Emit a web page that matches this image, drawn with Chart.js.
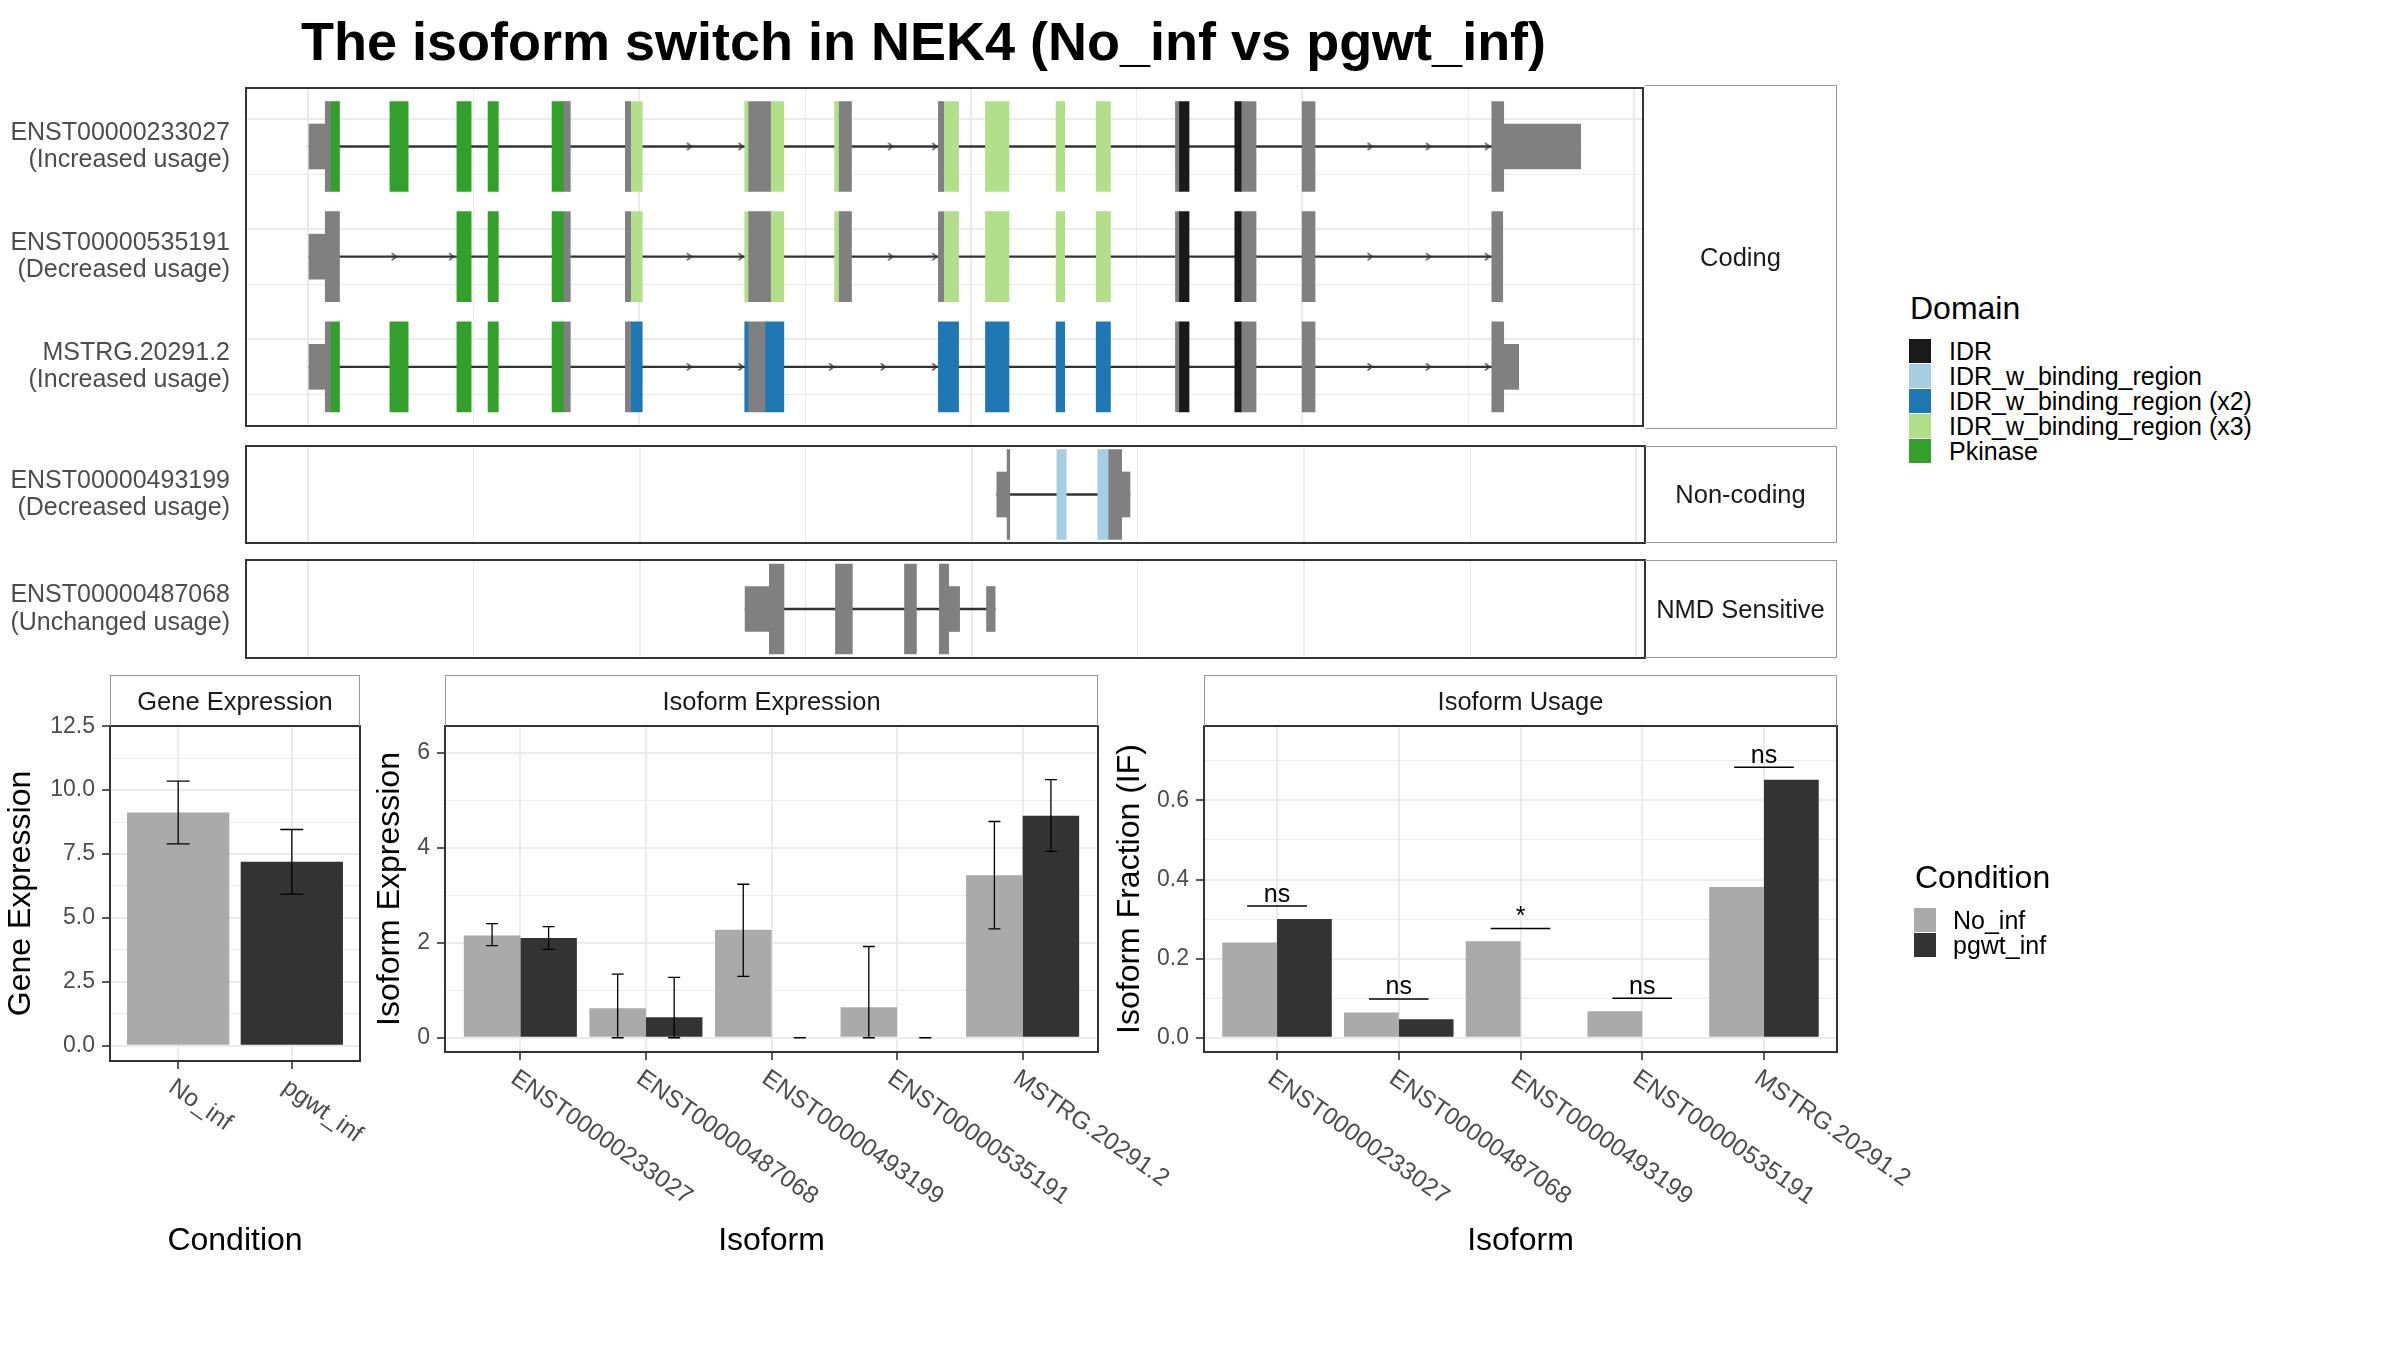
<!DOCTYPE html>
<html>
<head>
<meta charset="utf-8">
<title>NEK4 isoform switch</title>
<script src="https://cdn.jsdelivr.net/npm/chart.js@4.4.1/dist/chart.umd.min.js"></script>
<style>
  body { margin: 0; background: #fff; }
  #wrap { position: relative; width: 2400px; height: 1350px; overflow: hidden;
          font-family: 'Liberation Sans', Arial, sans-serif; }
  canvas { position: absolute; }
  .t { position: absolute; white-space: nowrap; }
  .strip { position: absolute; box-sizing: border-box; border: 1.5px solid #999;
           display: flex; align-items: center; justify-content: center;
           font-size: 25.5px; color: #1a1a1a; }
  .key { position: absolute; }
</style>
</head>
<body>
<div id="wrap"></div>
<script>
// ---- data ----
const IDR = 'IDR', B1 = 'IDR_w_binding_region', B2 = 'IDR_w_binding_region (x2)',
      B3 = 'IDR_w_binding_region (x3)', PK = 'Pkinase';
const domainNames = [IDR, B1, B2, B3, PK];
const domainColors = ['#1a1a1a', '#a6cee3', '#1f78b4', '#b2df8a', '#33a02c'];

// exon pieces [start, end, feature], relative genomic position (bp)
const tx233027 = [[4, 53, 'UTR'], [53, 68, 'CDS'], [68, 96, PK], [248, 303, PK], [450, 493, PK],
  [544, 575, PK], [737, 773, PK], [773, 792, 'CDS'], [958, 974, 'CDS'], [974, 1009, B3],
  [1318, 1330, B3], [1330, 1396, 'CDS'], [1396, 1436, B3], [1589, 1603, B3], [1603, 1640, 'CDS'],
  [1902, 1918, 'CDS'], [1918, 1963, B3], [2044, 2115, B3], [2257, 2283, B3], [2378, 2421, B3],
  [2617, 2627, 'CDS'], [2627, 2658, IDR], [2796, 2817, IDR], [2817, 2860, 'CDS'], [2999, 3038, 'CDS'],
  [3571, 3607, 'CDS'], [3607, 3839, 'UTR']];
const tx535191 = [[4, 53, 'UTR'], [53, 96, 'CDS'], [450, 493, PK], [544, 575, PK],
  [737, 773, PK], [773, 792, 'CDS'], [958, 974, 'CDS'], [974, 1009, B3],
  [1318, 1330, B3], [1330, 1396, 'CDS'], [1396, 1436, B3], [1589, 1603, B3], [1603, 1640, 'CDS'],
  [1902, 1918, 'CDS'], [1918, 1963, B3], [2044, 2115, B3], [2257, 2283, B3], [2378, 2421, B3],
  [2617, 2627, 'CDS'], [2627, 2658, IDR], [2796, 2817, IDR], [2817, 2860, 'CDS'], [2999, 3038, 'CDS'],
  [3571, 3604, 'CDS']];
const txMSTRG = [[4, 53, 'UTR'], [53, 68, 'CDS'], [68, 96, PK], [248, 303, PK], [450, 493, PK],
  [544, 575, PK], [737, 773, PK], [773, 792, 'CDS'], [958, 974, 'CDS'], [974, 1009, B2],
  [1318, 1330, B2], [1330, 1379, 'CDS'], [1379, 1436, B2], [1902, 1963, B2],
  [2044, 2115, B2], [2257, 2283, B2], [2378, 2421, B2],
  [2617, 2627, 'CDS'], [2627, 2658, IDR], [2796, 2817, IDR], [2817, 2860, 'CDS'], [2999, 3038, 'CDS'],
  [3571, 3607, 'CDS'], [3607, 3652, 'UTR']];
const tx493199 = [[2075, 2106, 'UTR'], [2106, 2114, 'CDS'], [2256, 2284, B1],
  [2379, 2412, B1], [2412, 2451, 'CDS'], [2451, 2476, 'UTR']];
const tx487068 = [[1317, 1390, 'UTR'], [1390, 1434, 'CDS'], [1589, 1640, 'CDS'], [1797, 1833, 'CDS'],
  [1902, 1930, 'CDS'], [1930, 1963, 'UTR'], [2044, 2070, 'UTR']];

// intron direction arrows
const arr233027 = [1157, 1313, 1764, 1897, 3210, 3386, 3564];
const arr535191 = [267, 440, 1157, 1313, 1764, 1897, 3210, 3386, 3564];
const arrMSTRG = [1157, 1313, 1586, 1742, 1897, 3210, 3386, 3564];

const codingIds = ['ENST00000233027', 'ENST00000535191', 'MSTRG.20291.2'];
const codingUsage = ['Increased usage', 'Decreased usage', 'Increased usage'];

const conditions = ['No_inf', 'pgwt_inf'];
const condColors = ['#aaaaaa', '#333333'];
const geneExp = [9.12, 7.2];
const geneLo = [7.9, 5.93];
const geneHi = [10.35, 8.46];

const isoforms = ['ENST00000233027', 'ENST00000487068', 'ENST00000493199', 'ENST00000535191', 'MSTRG.20291.2'];
const isoExpNo = [2.15, 0.62, 2.27, 0.64, 3.42];
const isoExpPg = [2.10, 0.43, 0, 0, 4.67];
const isoLoNo = [1.94, 0, 1.29, 0, 2.29];
const isoHiNo = [2.40, 1.34, 3.23, 1.92, 4.55];
const isoLoPg = [1.86, 0, 0, 0, 3.92];
const isoHiPg = [2.34, 1.27, 0, 0, 5.43];

const ifNo = [0.241, 0.064, 0.244, 0.067, 0.381];
const ifPg = [0.300, 0.047, 0, 0, 0.652];
const sigY = [0.333, 0.098, 0.276, 0.100, 0.684];
const sigText = ['ns', 'ns', '*', 'ns', 'ns'];

// ---- page helpers ----
Chart.defaults.font.family = "'Liberation Sans', Arial, sans-serif";
Chart.defaults.animation = false;
Chart.defaults.events = [];
Chart.defaults.plugins.legend.display = false;
Chart.defaults.plugins.tooltip.enabled = false;

const wrap = document.getElementById('wrap');
const PANEL_L = 246, PANEL_R = 1645;
const TITLE_SIZE = 32;

function addCanvas(left, top, w, h) {
  const c = document.createElement('canvas');
  c.width = w; c.height = h;
  c.style.left = left + 'px'; c.style.top = top + 'px';
  c.style.width = w + 'px'; c.style.height = h + 'px';
  wrap.appendChild(c);
  return c;
}
function txt(s, x, cy, size, o = {}) {
  const d = document.createElement('div');
  d.className = 't';
  d.textContent = s;
  d.style.fontSize = size + 'px';
  d.style.lineHeight = (size * 1.2) + 'px';
  d.style.top = (cy - size * 0.59) + 'px';
  d.style.left = x + 'px';
  d.style.color = o.color || '#000';
  if (o.bold) d.style.fontWeight = 'bold';
  if (o.center) d.style.transform = 'translateX(-50%)';
  wrap.appendChild(d);
}
function strip(label, l, t, w, h, side) {
  const d = document.createElement('div');
  d.className = 'strip';
  d.textContent = label;
  Object.assign(d.style, { left: l + 'px', top: t + 'px', width: w + 'px', height: h + 'px' });
  if (side === 'right') d.style.borderLeft = 'none';
  else d.style.borderBottom = 'none';
  wrap.appendChild(d);
}
function key(color, l, t, w, h) {
  const d = document.createElement('div');
  d.className = 'key';
  Object.assign(d.style, { left: l + 'px', top: t + 'px', width: w + 'px', height: h + 'px', background: color });
  wrap.appendChild(d);
}

const panelBorder = {
  id: 'panelBorder',
  afterDraw(chart) {
    const a = chart.chartArea, ctx = chart.ctx;
    ctx.save();
    ctx.strokeStyle = '#333';
    ctx.lineWidth = 2;
    ctx.strokeRect(a.left, a.top, a.right - a.left, a.bottom - a.top);
    ctx.restore();
  }
};

// small ">" used on introns; tip sits on the image centre
const chevron = document.createElement('canvas');
chevron.width = 14; chevron.height = 10;
{
  const cc = chevron.getContext('2d');
  cc.strokeStyle = '#333'; cc.lineWidth = 1.4;
  cc.beginPath(); cc.moveTo(2.5, 1.5); cc.lineTo(7, 5); cc.lineTo(2.5, 8.5); cc.stroke();
}

// ---- transcript structure panels ----
function modelPanel(top, bottom, ids, usage, segs, arrows, yMin, yMax) {
  const c = addCanvas(0, top - 2, PANEL_R + 3, bottom - top + 4);
  const sets = [{
    data: segs.map((s, i) => ({ x: [s[0][0], s[s.length - 1][1]], y: i + 1 })),
    backgroundColor: '#333333', barThickness: 1.6, grouped: false, order: 10
  }];
  ['UTR', 'CDS'].concat(domainNames).forEach(f => {
    const pts = [];
    segs.forEach((s, i) => s.forEach(e => { if (e[2] === f) pts.push({ x: [e[0], e[1]], y: i + 1 }); }));
    if (!pts.length) return;
    sets.push({
      data: pts,
      backgroundColor: domainNames.includes(f) ? domainColors[domainNames.indexOf(f)] : '#808080',
      barThickness: f === 'UTR' ? 45 : 90, grouped: false, order: 2
    });
  });
  const ap = [];
  arrows.forEach((a, i) => a.forEach(x => ap.push({ x: x, y: i + 1 })));
  if (ap.length) sets.push({ type: 'scatter', data: ap, pointStyle: chevron, pointRadius: 4, order: 0 });

  new Chart(c, {
    type: 'bar',
    data: { datasets: sets },
    options: {
      indexAxis: 'y',
      responsive: false,
      layout: { padding: { top: 2, bottom: 2, left: 0, right: 3 } },
      scales: {
        x: {
          type: 'linear', min: -186, max: 4027, offset: false,
          afterBuildTicks: s => { s.ticks = []; for (let v = 0; v <= 4000; v += 500) s.ticks.push({ value: v }); },
          ticks: { display: false },
          grid: { drawTicks: false, color: '#ebebeb', lineWidth: ctx => (ctx.tick && ctx.tick.value % 1000 === 0 ? 2 : 1) },
          border: { display: false },
          afterFit: s => { s.height = 0; }
        },
        y: {
          type: 'linear', min: yMin, max: yMax, reverse: true, offset: false,
          afterBuildTicks: s => {
            s.ticks = [];
            for (let v = Math.ceil(yMin * 2) / 2; v <= yMax; v += 0.5) s.ticks.push({ value: v });
          },
          ticks: {
            autoSkip: false, padding: 16, color: '#4d4d4d', font: { size: 25, lineHeight: 1.1 },
            callback: v => (Number.isInteger(v) ? [ids[v - 1], '(' + usage[v - 1] + ')'] : '')
          },
          grid: { drawTicks: false, color: '#ebebeb', lineWidth: ctx => (ctx.tick && Number.isInteger(ctx.tick.value) ? 2 : 1) },
          border: { display: false },
          afterFit: s => { s.width = PANEL_L; s.paddingTop = 0; s.paddingBottom = 0; }
        }
      }
    },
    plugins: [panelBorder]
  });
}

modelPanel(85, 429, codingIds, codingUsage, [tx233027, tx535191, txMSTRG], [arr233027, arr535191, arrMSTRG], 0.469, 3.537);
modelPanel(446, 543, ['ENST00000493199'], ['Decreased usage'], [tx493199], [[]], 0.565, 1.435);
modelPanel(560, 658, ['ENST00000487068'], ['Unchanged usage'], [tx487068], [[]], 0.565, 1.435);

strip('Coding', PANEL_R, 85, 192, 344, 'right');
strip('Non-coding', PANEL_R, 446, 192, 97, 'right');
strip('NMD Sensitive', PANEL_R, 560, 192, 98, 'right');

// ---- bar panels ----
function catAxis(n, height) {
  return {
    type: 'linear', min: 0.4, max: n + 0.6, offset: false,
    afterBuildTicks: s => { s.ticks = []; for (let i = 1; i <= n; i++) s.ticks.push({ value: i }); },
    ticks: { display: false },
    grid: { offset: false, color: '#ebebeb', lineWidth: 2, drawTicks: true, tickLength: 8, tickColor: '#333', tickWidth: 1.6 },
    border: { display: false },
    afterFit: s => { s.height = height; s.paddingLeft = 0; s.paddingRight = 0; }
  };
}
// titleX: wanted centre of the rotated y title, measured from the canvas left edge
function valAxis(min, max, step, fmt, width, title, titleX) {
  return {
    type: 'linear', min: min, max: max, offset: false,
    afterBuildTicks: s => {
      s.ticks = [];
      for (let k = 0; k * step <= max + 1e-9; k++) s.ticks.push({ value: +(k * step).toFixed(4), isMajor: k % 2 === 0 });
    },
    ticks: {
      autoSkip: false, padding: 7, color: '#4d4d4d', font: { size: 23 },
      callback: function (v, i, ticks) { return ticks[i].isMajor ? fmt(v) : ''; }
    },
    grid: {
      color: '#ebebeb', tickLength: 8, tickWidth: 1.6,
      lineWidth: ctx => (ctx.tick && ctx.tick.isMajor ? 2 : 1),
      tickColor: ctx => (ctx.tick && ctx.tick.isMajor ? '#333' : 'rgba(0,0,0,0)')
    },
    border: { display: false },
    title: {
      display: true, text: title, color: '#000', font: { size: TITLE_SIZE, lineHeight: 1.2 },
      padding: { top: titleX - TITLE_SIZE * 0.6, bottom: 0 }
    },
    afterFit: s => { s.width = width; s.paddingTop = 0; s.paddingBottom = 0; }
  };
}
function slantLabels(labels, dy) {
  return {
    id: 'slantLabels',
    afterDraw(chart) {
      const xs = chart.scales.x, ctx = chart.ctx, y0 = chart.chartArea.bottom + dy;
      ctx.save();
      ctx.fillStyle = '#4d4d4d';
      ctx.font = "24.5px 'Liberation Sans', Arial, sans-serif";
      ctx.textAlign = 'left';
      ctx.textBaseline = 'top';
      labels.forEach((lab, i) => {
        ctx.save();
        ctx.translate(xs.getPixelForValue(i + 1), y0);
        ctx.rotate(35 * Math.PI / 180);
        ctx.fillText(lab, 0, 0);
        ctx.restore();
      });
      ctx.restore();
    }
  };
}
function xTitle(text, fromBottom) {
  return {
    id: 'xTitle',
    afterDraw(chart) {
      const a = chart.chartArea, ctx = chart.ctx;
      ctx.save();
      ctx.fillStyle = '#000';
      ctx.font = TITLE_SIZE + "px 'Liberation Sans', Arial, sans-serif";
      ctx.textAlign = 'center';
      ctx.textBaseline = 'alphabetic';
      ctx.fillText(text, (a.left + a.right) / 2, chart.height - fromBottom);
      ctx.restore();
    }
  };
}
function errorBars(sets) {
  return {
    id: 'errorBars',
    afterDatasetsDraw(chart) {
      const xs = chart.scales.x, ys = chart.scales.y, ctx = chart.ctx;
      ctx.save();
      ctx.strokeStyle = '#000';
      ctx.lineWidth = 1.3;
      sets.forEach(s => s.lo.forEach((lo, i) => {
        const x = xs.getPixelForValue(i + 1 + s.shift);
        const y1 = ys.getPixelForValue(lo), y2 = ys.getPixelForValue(s.hi[i]), h = s.cap / 2;
        ctx.beginPath();
        ctx.moveTo(x, y1); ctx.lineTo(x, y2);
        ctx.moveTo(x - h, y1); ctx.lineTo(x + h, y1);
        ctx.moveTo(x - h, y2); ctx.lineTo(x + h, y2);
        ctx.stroke();
      }));
      ctx.restore();
    }
  };
}
const sigMarks = {
  id: 'sigMarks',
  afterDatasetsDraw(chart) {
    const xs = chart.scales.x, ys = chart.scales.y, ctx = chart.ctx;
    ctx.save();
    ctx.strokeStyle = '#000'; ctx.fillStyle = '#000'; ctx.lineWidth = 1.5;
    ctx.font = "25px 'Liberation Sans', Arial, sans-serif";
    ctx.textAlign = 'center'; ctx.textBaseline = 'alphabetic';
    sigY.forEach((v, i) => {
      const y = ys.getPixelForValue(v);
      ctx.beginPath();
      ctx.moveTo(xs.getPixelForValue(i + 1 - 0.245), y);
      ctx.lineTo(xs.getPixelForValue(i + 1 + 0.245), y);
      ctx.stroke();
      ctx.fillText(sigText[i], xs.getPixelForValue(i + 1), y - 4.5);
    });
    ctx.restore();
  }
};
function barSet(vals, color) {
  return { data: vals.map((v, i) => ({ x: i + 1, y: v })), backgroundColor: color, categoryPercentage: 0.9, barPercentage: 1 };
}

const BAR_TOP = 726, CANVAS_TOP = 696, CANVAS_BOT = 1300;

// Gene expression
new Chart(addCanvas(0, CANVAS_TOP, 400, CANVAS_BOT - CANVAS_TOP), {
  type: 'bar',
  data: { datasets: [barSet(geneExp, condColors)] },
  options: {
    responsive: false,
    layout: { padding: { top: BAR_TOP - CANVAS_TOP, right: 400 - 360, left: 0, bottom: 0 } },
    scales: {
      x: catAxis(conditions.length, CANVAS_BOT - 1061),
      y: valAxis(-0.6, 12.51, 1.25, v => v.toFixed(1), 110, 'Gene Expression', 21)
    }
  },
  plugins: [panelBorder, slantLabels(conditions, 14), xTitle('Condition', 50),
    errorBars([{ shift: 0, lo: geneLo, hi: geneHi, cap: 23 }])]
});

// Isoform expression
new Chart(addCanvas(360, CANVAS_TOP, 840, CANVAS_BOT - CANVAS_TOP), {
  type: 'bar',
  data: { datasets: [barSet(isoExpNo, condColors[0]), barSet(isoExpPg, condColors[1])] },
  options: {
    responsive: false,
    layout: { padding: { top: BAR_TOP - CANVAS_TOP, right: 1200 - 1098, left: 0, bottom: 0 } },
    scales: {
      x: catAxis(isoforms.length, CANVAS_BOT - 1052),
      y: valAxis(-0.3, 6.56, 1, v => String(v), 85, 'Isoform Expression', 30)
    }
  },
  plugins: [panelBorder, slantLabels(isoforms, 14), xTitle('Isoform', 50),
    errorBars([{ shift: -0.225, lo: isoLoNo, hi: isoHiNo, cap: 12 }, { shift: 0.225, lo: isoLoPg, hi: isoHiPg, cap: 12 }])]
});

// Isoform usage
new Chart(addCanvas(1100, CANVAS_TOP, 860, CANVAS_BOT - CANVAS_TOP), {
  type: 'bar',
  data: { datasets: [barSet(ifNo, condColors[0]), barSet(ifPg, condColors[1])] },
  options: {
    responsive: false,
    layout: { padding: { top: BAR_TOP - CANVAS_TOP, right: 1960 - 1837, left: 0, bottom: 0 } },
    scales: {
      x: catAxis(isoforms.length, CANVAS_BOT - 1052),
      y: valAxis(-0.036, 0.788, 0.1, v => v.toFixed(1), 104, 'Isoform Fraction (IF)', 30)
    }
  },
  plugins: [panelBorder, slantLabels(isoforms, 14), xTitle('Isoform', 50), sigMarks]
});

strip('Gene Expression', 110, 675, 250, 51);
strip('Isoform Expression', 445, 675, 653, 51);
strip('Isoform Usage', 1204, 675, 633, 51);

// ---- title & legends ----
txt('The isoform switch in NEK4 (No_inf vs pgwt_inf)', 301, 41, 54, { bold: true });

txt('Domain', 1910, 308, TITLE_SIZE);
domainNames.forEach((n, i) => {
  key(domainColors[i], 1909, 339 + i * 25, 22, 24);
  txt(n, 1949, 351 + i * 25, 25);
});

txt('Condition', 1915, 877, TITLE_SIZE);
conditions.forEach((n, i) => {
  key(condColors[i], 1914, 908 + i * 25, 22, 24);
  txt(n, 1953, 920 + i * 25, 25);
});
</script>
</body>
</html>
